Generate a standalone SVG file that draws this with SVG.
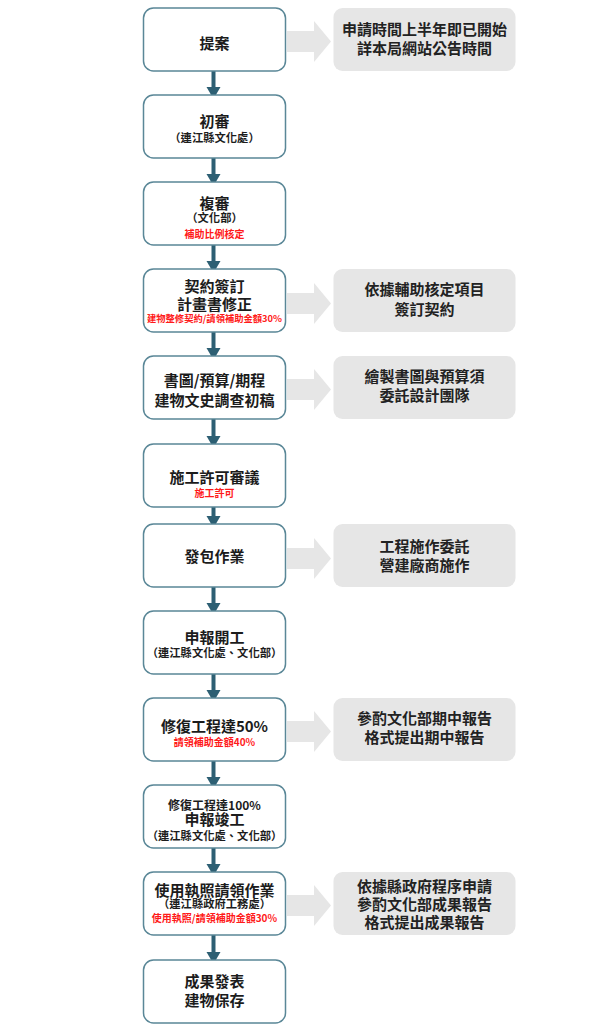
<svg xmlns="http://www.w3.org/2000/svg" width="589" height="1024" viewBox="0 0 589 1024">
<style>
.box{fill:#fff;stroke:#5a8797;stroke-width:1.5}
.side{fill:#e6e6e6}
.flow line{stroke:#2d5f73;stroke-width:4}
.flow polygon{fill:#2d5f73}
.flow polygon.garrow{fill:#e6e6e6}
text{font-family:"Noto Sans CJK TC","Noto Sans CJK SC",sans-serif;text-anchor:middle;fill:#1c1c1c;font-weight:bold}
.t{font-size:15px}
.s{font-size:11.3px}
.m{font-size:12px}
.r{font-size:10px;fill:#ff1a1a}
.st{font-size:15px;fill:#222}
</style>
<g id="connectors" class="flow">
<line x1="213.5" y1="71" x2="213.5" y2="88"/><polygon points="206.5,87 220.5,87 213.5,99"/>
<line x1="213.5" y1="158" x2="213.5" y2="175"/><polygon points="206.5,174 220.5,174 213.5,186"/>
<line x1="213.5" y1="245" x2="213.5" y2="262"/><polygon points="206.5,261 220.5,261 213.5,273"/>
<line x1="213.5" y1="332" x2="213.5" y2="349"/><polygon points="206.5,348 220.5,348 213.5,360"/>
<line x1="213.5" y1="419" x2="213.5" y2="437"/><polygon points="206.5,436 220.5,436 213.5,448"/>
<line x1="213.5" y1="507" x2="213.5" y2="517"/><polygon points="206.5,516 220.5,516 213.5,528"/>
<line x1="213.5" y1="587" x2="213.5" y2="604"/><polygon points="206.5,603 220.5,603 213.5,615"/>
<line x1="213.5" y1="674" x2="213.5" y2="691"/><polygon points="206.5,690 220.5,690 213.5,702"/>
<line x1="213.5" y1="761" x2="213.5" y2="778"/><polygon points="206.5,777 220.5,777 213.5,789"/>
<line x1="213.5" y1="848" x2="213.5" y2="865"/><polygon points="206.5,864 220.5,864 213.5,876"/>
<line x1="213.5" y1="935" x2="213.5" y2="953"/><polygon points="206.5,952 220.5,952 213.5,964"/>
<polygon class="garrow" points="287,31 314,31 314,21 331,41.5 314,62 314,52 287,52"/>
<polygon class="garrow" points="287,293 314,293 314,283 331,303.5 314,324 314,314 287,314"/>
<polygon class="garrow" points="287,379 314,379 314,369 331,389.5 314,410 314,400 287,400"/>
<polygon class="garrow" points="287,548 314,548 314,538 331,558.5 314,579 314,569 287,569"/>
<polygon class="garrow" points="287,721 314,721 314,711 331,731.5 314,752 314,742 287,742"/>
<polygon class="garrow" points="287,895 314,895 314,885 331,905.5 314,926 314,916 287,916"/>
</g>
<g id="n1"><rect class="box" x="143.5" y="8" width="142" height="63" rx="10"/><text class="t" x="214.5" y="48.5">提案</text></g>
<g id="n2"><rect class="box" x="143.5" y="95" width="142" height="63" rx="10"/><text x="214.5"><tspan class="t" x="214.5" y="127.4">初審</tspan><tspan class="s" x="214.5" y="142">（連江縣文化處）</tspan></text></g>
<g id="n3"><rect class="box" x="143.5" y="182" width="142" height="63" rx="10"/><text x="214.5"><tspan class="t" x="214.5" y="208.7">複審</tspan><tspan class="s" x="214.5" y="222">（文化部）</tspan><tspan class="r" x="214.5" y="237.6">補助比例核定</tspan></text></g>
<g id="n4"><rect class="box" x="143.5" y="269" width="142" height="63" rx="10"/><text x="214.5"><tspan class="t" x="214.5" y="292.4">契約簽訂</tspan><tspan class="t" x="214.5" y="309.7">計畫書修正</tspan><tspan class="r" x="214.5" y="322" style="font-size:9.3px">建物整修契約/請領補助金額30%</tspan></text></g>
<g id="n5"><rect class="box" x="143.5" y="356" width="142" height="63" rx="10"/><text class="t" x="214.5"><tspan x="214.5" y="385.7">書圖/預算/期程</tspan><tspan x="214.5" y="405.7">建物文史調查初稿</tspan></text></g>
<g id="n6"><rect class="box" x="143.5" y="444" width="142" height="63" rx="10"/><text x="214.5"><tspan class="t" x="214.5" y="482.7">施工許可審議</tspan><tspan class="r" x="214.5" y="496.8">施工許可</tspan></text></g>
<g id="n7"><rect class="box" x="143.5" y="524" width="142" height="63" rx="10"/><text class="t" x="214.5" y="562.4">發包作業</text></g>
<g id="n8"><rect class="box" x="143.5" y="611" width="142" height="63" rx="10"/><text x="214.5"><tspan class="t" x="214.5" y="643">申報開工</tspan><tspan class="s" x="214.5" y="657">（連江縣文化處、文化部）</tspan></text></g>
<g id="n9"><rect class="box" x="143.5" y="698" width="142" height="63" rx="10"/><text x="214.5"><tspan class="t" x="214.5" y="732">修復工程達50%</tspan><tspan class="r" x="214.5" y="746">請領補助金額40%</tspan></text></g>
<g id="n10"><rect class="box" x="143.5" y="785" width="142" height="63" rx="10"/><text x="214.5"><tspan class="m" x="214.5" y="809.5">修復工程達100%</tspan><tspan class="t" x="214.5" y="824.7">申報竣工</tspan><tspan class="s" x="214.5" y="840">（連江縣文化處、文化部）</tspan></text></g>
<g id="n11"><rect class="box" x="143.5" y="872" width="142" height="63" rx="10"/><text x="214.5"><tspan class="t" x="214.5" y="895.7">使用執照請領作業</tspan><tspan class="s" x="214.5" y="908">（連江縣政府工務處）</tspan><tspan class="r" x="214.5" y="921.8">使用執照/請領補助金額30%</tspan></text></g>
<g id="n12"><rect class="box" x="143.5" y="960" width="142" height="63" rx="10"/><text class="t" x="214.5"><tspan x="214.5" y="987.4">成果發表</tspan><tspan x="214.5" y="1005.7">建物保存</tspan></text></g>
<g id="s1"><rect class="side" x="333.5" y="8" width="182" height="63" rx="9"/><text class="st" x="424.5"><tspan x="424.5" y="34.7">申請時間上半年即已開始</tspan><tspan x="424.5" y="54.2">詳本局網站公告時間</tspan></text></g>
<g id="s2"><rect class="side" x="333.5" y="269" width="182" height="63" rx="9"/><text class="st" x="424.5"><tspan x="424.5" y="295">依據輔助核定項目</tspan><tspan x="424.5" y="314.7">簽訂契約</tspan></text></g>
<g id="s3"><rect class="side" x="333.5" y="356" width="182" height="63" rx="9"/><text class="st" x="424.5"><tspan x="424.5" y="382.4">繪製書圖與預算須</tspan><tspan x="424.5" y="401">委託設計團隊</tspan></text></g>
<g id="s4"><rect class="side" x="333.5" y="524" width="182" height="63" rx="9"/><text class="st" x="424.5"><tspan x="424.5" y="552">工程施作委託</tspan><tspan x="424.5" y="570.6">營建廠商施作</tspan></text></g>
<g id="s5"><rect class="side" x="333.5" y="698" width="182" height="63" rx="9"/><text class="st" x="424.5"><tspan x="424.5" y="724">參酌文化部期中報告</tspan><tspan x="424.5" y="743">格式提出期中報告</tspan></text></g>
<g id="s6"><rect class="side" x="333.5" y="872" width="182" height="63" rx="9"/><text class="st" x="424.5"><tspan x="424.5" y="892">依據縣政府程序申請</tspan><tspan x="424.5" y="910">參酌文化部成果報告</tspan><tspan x="424.5" y="928">格式提出成果報告</tspan></text></g>
</svg>
